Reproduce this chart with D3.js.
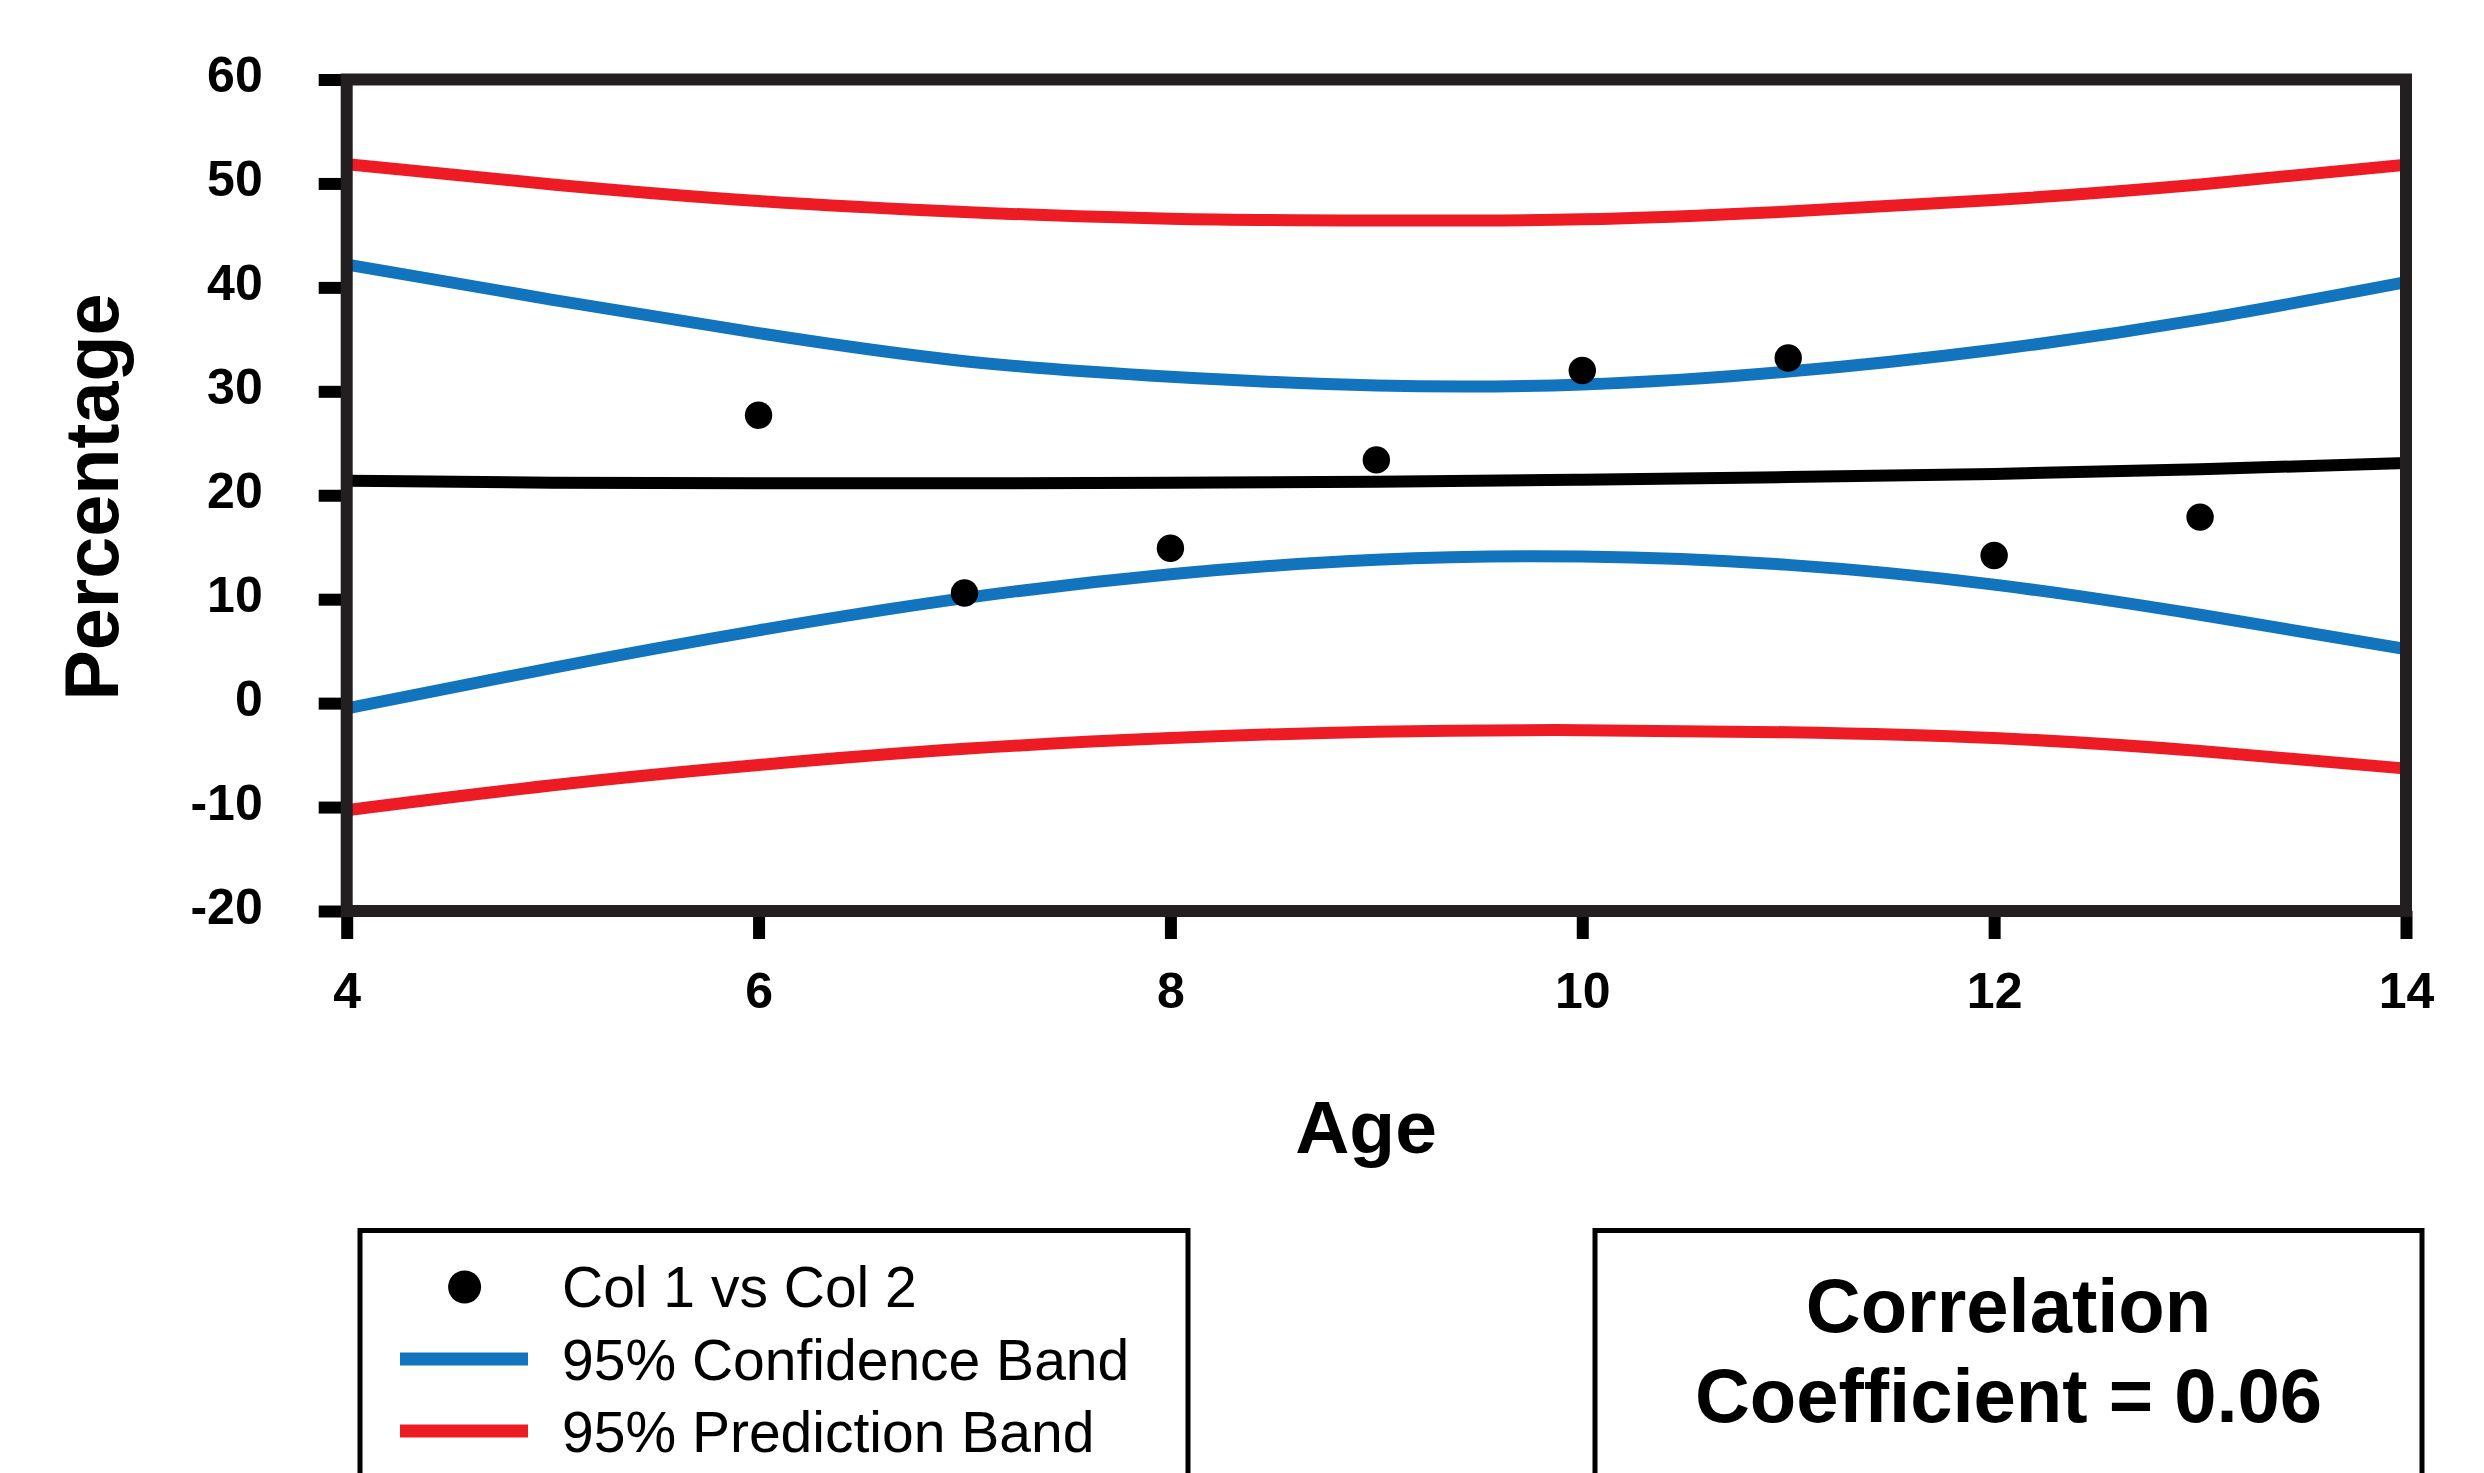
<!DOCTYPE html>
<html>
<head>
<meta charset="utf-8">
<script src="https://cdn.jsdelivr.net/npm/d3@7"></script>
<style>
  html, body { margin: 0; padding: 0; background: #ffffff; }
  svg { display: block; }
  text { font-family: "Liberation Sans", Arial, Helvetica, sans-serif; }
</style>
</head>
<body>
<svg id="chart" width="2484" height="1473"></svg>
<script>
// ---- Data ----
const ages = [6, 7, 8, 9, 10, 11, 12, 13];
const percentages = [27.7, 10.6, 14.9, 23.4, 32.0, 33.2, 14.2, 17.9];

const curveX = [4, 5, 6, 7, 8, 9, 10, 11, 12, 13, 14];
const regressionLine = [21.4, 21.2, 21.15, 21.15, 21.2, 21.3, 21.5, 21.75, 22.05, 22.5, 23.1];
const confUpper = [42.2, 38.8, 35.6, 32.9, 31.4, 30.55, 30.65, 31.9, 34.0, 36.9, 40.5];
const confLower = [-0.5, 3.4, 7.0, 10.1, 12.4, 13.8, 14.1, 13.3, 11.4, 8.5, 5.2];
const predUpper = [51.85, 49.9, 48.3, 47.25, 46.6, 46.43, 46.55, 47.3, 48.4, 49.9, 51.8];
const predLower = [-10.3, -7.9, -5.95, -4.4, -3.36, -2.75, -2.6, -2.8, -3.36, -4.6, -6.3];

const xTicks = [4, 6, 8, 10, 12, 14];
const yTicks = [-20, -10, 0, 10, 20, 30, 40, 50, 60];

const legendLabels = ["Col 1 vs Col 2", "95% Confidence Band", "95% Prediction Band"];
const xTitle = "Age";
const yTitle = "Percentage";
const noteLines = ["Correlation", "Coefficient = 0.06"];

// ---- Setup ----
const BLUE = "#1174bc";
const RED = "#ed1c24";
const FRAME = "#231f20";

const svg = d3.select("#chart");
const pLeft = 346.7, pRight = 2406, pTop = 79.5, pBottom = 911;

const x = d3.scaleLinear().domain([4, 14]).range([pLeft, pRight]);
const y = d3.scaleLinear().domain([-20, 60]).range([pBottom, pTop]);

const fmt = d => String(d); // plain hyphen-minus, as in the reference

// ---- Axes ----
const yAxis = d3.axisLeft(y).tickValues(yTicks).tickSize(28).tickPadding(56).tickFormat(fmt);
const gy = svg.append("g").attr("transform", `translate(${pLeft},0)`).call(yAxis);
gy.select(".domain").remove();
gy.selectAll(".tick line").attr("stroke", "#000").attr("stroke-width", 12);
gy.selectAll(".tick text")
  .attr("dy", "0.24em")
  .attr("fill", "#000")
  .style("font-size", "50px")
  .style("font-weight", "bold")
  .style("font-family", '"Liberation Sans", Arial, sans-serif');

const xAxis = d3.axisBottom(x).tickValues(xTicks).tickSize(28).tickPadding(33.5).tickFormat(fmt);
const gx = svg.append("g").attr("transform", `translate(0,${pBottom})`).call(xAxis);
gx.select(".domain").remove();
gx.selectAll(".tick line").attr("stroke", "#000").attr("stroke-width", 12);
gx.selectAll(".tick text")
  .attr("fill", "#000")
  .style("font-size", "50px")
  .style("font-weight", "bold")
  .style("font-family", '"Liberation Sans", Arial, sans-serif');

// ---- Curves ----
const line = d3.line()
  .x((d, i) => x(curveX[i]))
  .y(d => y(d))
  .curve(d3.curveNatural);

const series = [
  { v: predUpper, c: RED },
  { v: predLower, c: RED },
  { v: confUpper, c: BLUE },
  { v: confLower, c: BLUE },
  { v: regressionLine, c: "#000" }
];
svg.append("g").selectAll("path").data(series).join("path")
  .attr("d", d => line(d.v))
  .attr("fill", "none")
  .attr("stroke", d => d.c)
  .attr("stroke-width", 12);

// ---- Points ----
svg.append("g").selectAll("circle").data(ages).join("circle")
  .attr("cx", d => x(d))
  .attr("cy", (d, i) => y(percentages[i]))
  .attr("r", 13.7)
  .attr("fill", "#000");

// ---- Frame ----
svg.append("rect")
  .attr("x", pLeft).attr("y", pTop)
  .attr("width", pRight - pLeft).attr("height", pBottom - pTop)
  .attr("fill", "none").attr("stroke", FRAME).attr("stroke-width", 12);

// ---- Axis titles ----
svg.append("text")
  .attr("x", 1366).attr("y", 1153)
  .attr("text-anchor", "middle")
  .style("font-size", "75px").style("font-weight", "bold")
  .text(xTitle);

svg.append("text")
  .attr("transform", "translate(118,497) rotate(-90)")
  .attr("text-anchor", "middle")
  .style("font-size", "75.5px").style("font-weight", "bold")
  .text(yTitle);

// ---- Legend box ----
svg.append("rect")
  .attr("x", 360).attr("y", 1230.5).attr("width", 828).attr("height", 400)
  .attr("fill", "none").attr("stroke", "#000").attr("stroke-width", 5);

const legY = [1307, 1380, 1452];
svg.append("circle").attr("cx", 464.6).attr("cy", 1287).attr("r", 16.5).attr("fill", "#000");
svg.append("line").attr("x1", 400).attr("x2", 528).attr("y1", 1359).attr("y2", 1359)
  .attr("stroke", BLUE).attr("stroke-width", 13);
svg.append("line").attr("x1", 400).attr("x2", 528).attr("y1", 1431).attr("y2", 1431)
  .attr("stroke", RED).attr("stroke-width", 13);
svg.append("g").selectAll("text").data(legendLabels).join("text")
  .attr("x", 562).attr("y", (d, i) => legY[i])
  .style("font-size", "57px")
  .text(d => d);

// ---- Correlation box ----
svg.append("rect")
  .attr("x", 1595).attr("y", 1230.5).attr("width", 827).attr("height", 400)
  .attr("fill", "none").attr("stroke", "#000").attr("stroke-width", 5);
svg.append("g").selectAll("text").data(noteLines).join("text")
  .attr("x", 2008.5).attr("y", (d, i) => [1332, 1422][i])
  .attr("text-anchor", "middle")
  .style("font-size", "76px").style("font-weight", "bold")
  .text(d => d);
</script>
</body>
</html>
